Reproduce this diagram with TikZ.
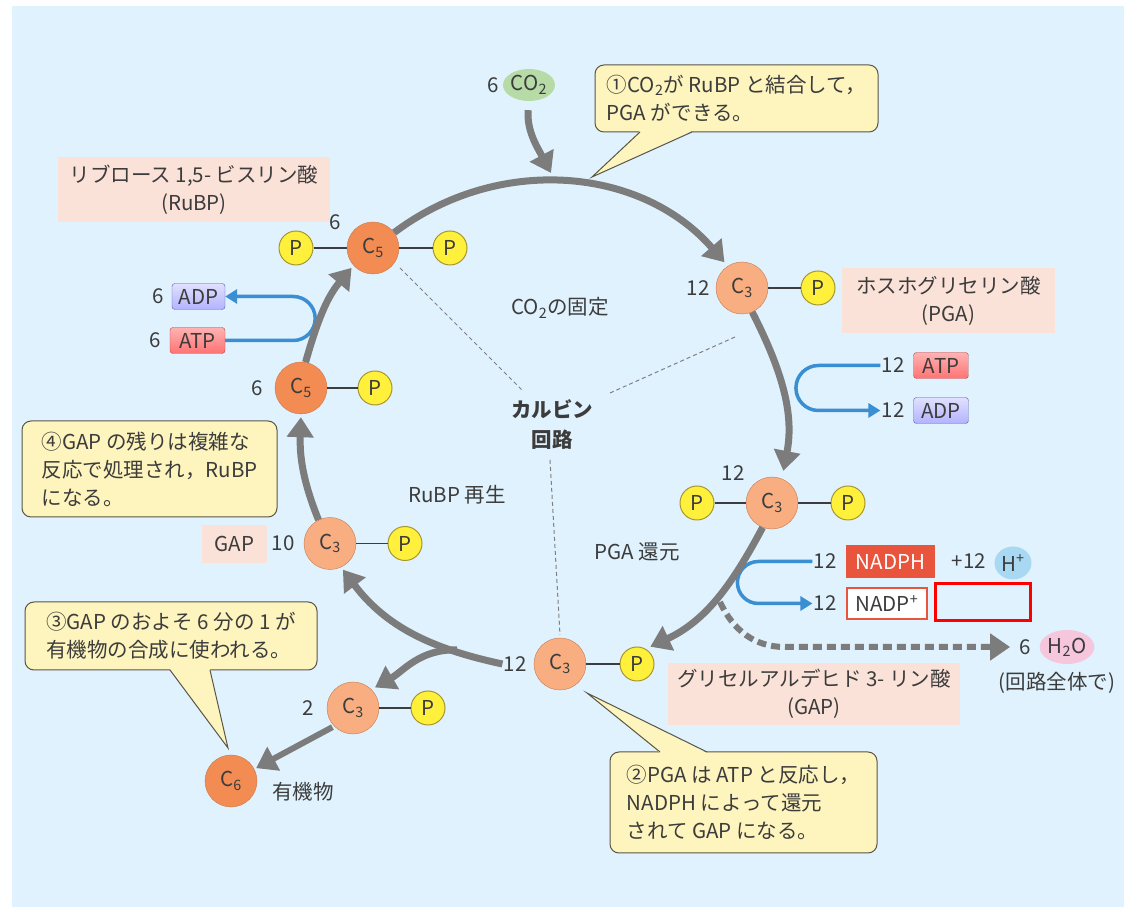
\documentclass[tikz,border=0pt]{standalone}
\usepackage{fontspec}
\setmainfont{Noto Sans CJK JP}
\usetikzlibrary{arrows.meta,shapes.geometric}

\definecolor{bgblue}{HTML}{E0F2FD}
\definecolor{cfiveorange}{HTML}{F28C52}
\definecolor{cthreeorange}{HTML}{F8AE80}
\definecolor{corangeedge}{HTML}{C87850}
\definecolor{pyellow}{HTML}{FFF03C}
\definecolor{pedge}{HTML}{A89630}
\definecolor{cyclegray}{HTML}{7C7C7C}
\definecolor{namepink}{HTML}{FBE2D8}
\definecolor{noteyellow}{HTML}{FDF4BE}
\definecolor{noteedge}{HTML}{5A5646}
\definecolor{flowblue}{HTML}{3A8ED2}
\definecolor{nadphred}{HTML}{E8553C}
\definecolor{hplusblue}{HTML}{A9D9F2}
\definecolor{waterpink}{HTML}{F5C6DC}
\definecolor{cotwogreen}{HTML}{B6DBA6}
\definecolor{inkgray}{HTML}{3C3C3C}

\tikzset{
  cfive/.style={circle, draw=corangeedge, fill=cfiveorange, minimum size=52pt, inner sep=0pt},
  cthree/.style={cfive, fill=cthreeorange},
  phos/.style={circle, draw=pedge, line width=1pt, fill=pyellow, minimum size=34pt, inner sep=0pt},
  bond/.style={draw=inkgray, line width=1.2pt},
  num/.style={inner sep=1pt},
  namebox/.style={fill=namepink, align=center, inner sep=0pt},
  note/.style={draw=noteedge, line width=1pt, fill=noteyellow, rounded corners=9pt, align=left, inner sep=0pt},
  turn/.style={draw=cyclegray, line width=7pt, -{Triangle[length=20pt,width=26pt]}},
  energy/.style={draw=flowblue, line width=3.5pt, -{Triangle[length=12pt,width=14pt]}},
  divide/.style={draw=gray, line width=1pt, dash pattern=on 4pt off 3pt},
  atpbox/.style={rectangle, rounded corners=3pt, draw=red!45!gray, top color=red!30!white, bottom color=red!55!white, minimum width=55pt, minimum height=26pt, inner sep=0pt},
  adpbox/.style={atpbox, draw=blue!30!gray, top color=blue!12!white, bottom color=blue!30!white},
}

\begin{document}
\begin{tikzpicture}[x=1pt, y=1pt, font=\fontsize{20.5}{28}\selectfont, text=inkgray]

\fill[bgblue] (12,0) rectangle (1124,901);
\useasboundingbox (0,0) rectangle (1124,907);

\draw[divide] (400,639) -- (522,517);
\draw[divide] (610,514) -- (735,570);
\draw[divide] (550,447) -- (560,272);

\node (fixN) at (560,599) {CO\textsubscript{2}の固定};
\node[align=center, font=\fontsize{20.5}{30}\selectfont\bfseries] (calvin) at (552,482) {カルビン\\回路};
\node (regenN) at (457,412) {RuBP 再生};
\node (reduceN) at (637,355) {PGA 還元};

\node[namebox, minimum width=272pt, minimum height=65pt] (rubpName) at (194,717.5) {リブロース 1,5- ビスリン酸\\(RuBP)};
\node[cfive] (rubp) at (373,659) {C\textsubscript{5}};
\node[phos] (rubpL) at (296,659) {P};
\node[phos] (rubpR) at (450,659) {P};
\draw[bond] (rubpL) -- (rubp) -- (rubpR);
\node[num] (rubpN) at (335,685) {6};

\node[cthree] (pga) at (742,619) {C\textsubscript{3}};
\node[phos] (pgaP) at (818,619) {P};
\draw[bond] (pga) -- (pgaP);
\node[num] (pgaN) at (698,619) {12};
\node[namebox, minimum width=213pt, minimum height=65pt] (pgaName) at (948.5,606.5) {ホスホグリセリン酸\\(PGA)};

\node[num] (atpRN) at (893,541.5) {12};
\node[atpbox] (atpR) at (941,541.5) {ATP};
\node[num] (adpRN) at (893,496.5) {12};
\node[adpbox] (adpR) at (941,496.5) {ADP};
\draw[energy] (atpRN.west) -- ++(-62,0) arc[start angle=90, end angle=270, radius=22.5] -- (adpRN.west);

\node[cthree] (bpg) at (772,404) {C\textsubscript{3}};
\node[phos] (bpgL) at (697,404) {P};
\node[phos] (bpgR) at (848,404) {P};
\draw[bond] (bpgL) -- (bpg) -- (bpgR);
\node[num] (bpgN) at (733,434) {12};

\node[num] (nadphN) at (825,345.5) {12};
\node[fill=nadphred, text=white, minimum width=89pt, minimum height=33pt, inner sep=0pt] (nadph) at (890.5,345.5) {NADPH};
\node[num] (hN) at (969,345.5) {+12};
\node[ellipse, fill=hplusblue, minimum width=37pt, minimum height=33pt, inner sep=0pt] (hplus) at (1013,344) {H\textsuperscript{+}};
\node[num] (nadpN) at (825,303.5) {12};
\node[draw=nadphred, line width=2.5pt, fill=white, minimum width=80pt, minimum height=31pt, inner sep=0pt] (nadp) at (887,303.5) {NADP\textsuperscript{+}};
\draw[energy] (nadphN.west) -- ++(-54,0) arc[start angle=90, end angle=270, radius=21] -- (nadpN.west);
\draw[red, line width=3pt] (935,286) rectangle (1030,323);

\coordinate (drain) at (720,305);
\node[num] (waterN) at (1025,260) {6};
\node[ellipse, fill=waterpink, minimum width=50pt, minimum height=34pt, inner sep=0pt] (water) at (1067,260) {H\textsubscript{2}O};
\node (waterNote) at (1057,224) {(回路全体で)};
\draw[turn, line width=6pt, dash pattern=on 9pt off 5pt, shorten >=8pt] (drain) to[out=-65, in=180] (785,260) -- (waterN.west);

\node[cthree] (gap) at (560,243) {C\textsubscript{3}};
\node[phos] (gapP) at (637,243) {P};
\draw[bond] (gap) -- (gapP);
\node[num] (gapN) at (515,243) {12};
\node[namebox, minimum width=292pt, minimum height=62pt] (gapName) at (814,213) {グリセルアルデヒド 3- リン酸\\(GAP)};

\node[cthree] (gapTen) at (330,363.5) {C\textsubscript{3}};
\node[phos] (gapTenP) at (405,363.5) {P};
\draw[bond] (gapTen) -- (gapTenP);
\node[num] (gapTenN) at (283,363.5) {10};
\node[namebox, minimum width=65pt, minimum height=38pt] (gapTenName) at (234.5,363) {GAP};

\node[cfive] (ruSix) at (301,519) {C\textsubscript{5}};
\node[phos] (ruSixP) at (375,519) {P};
\draw[bond] (ruSix) -- (ruSixP);
\node[num] (ruSixN) at (257,519) {6};

\node[num] (adpLN) at (158,610.5) {6};
\node[adpbox, minimum width=53pt] (adpL) at (198.5,610.5) {ADP};
\node[num] (atpLN) at (155,566.5) {6};
\node[atpbox] (atpL) at (197.5,566.5) {ATP};
\draw[energy] (atpL.east) -- ++(68,0) arc[start angle=-90, end angle=90, radius=22] -- (adpL.east);

\node[cthree] (gapTwo) at (353,199) {C\textsubscript{3}};
\node[phos] (gapTwoP) at (428,199) {P};
\draw[bond] (gapTwo) -- (gapTwoP);
\node[num] (gapTwoN) at (308,199) {2};
\node[cfive] (hexose) at (231,126) {C\textsubscript{6}};
\node (hexoseN) at (303,115) {有機物};

\node[num] (cotwoN) at (493,822) {6};
\node[ellipse, fill=cotwogreen, minimum width=52pt, minimum height=32pt, inner sep=0pt] (cotwo) at (529,822) {CO\textsubscript{2}};
\coordinate (fixTip) at (551,734);

\draw[turn, shorten >=5pt] (rubp.36) to[out=37, in=131] (pga.123);
\draw[turn, shorten >=8pt] (pga.-67) to[out=-63, in=79] (bpg.68);
\draw[turn, shorten >=5pt] (bpg.-111) to[out=-118, in=25] (gapP.60);
\draw[turn, shorten >=3pt] (gapN.west) to[out=168, in=-53] (gapTen.-65);
\coordinate (branch) at (457,257);
\draw[turn, shorten >=4pt] (branch) to[out=178, in=30] (gapTwo.45);
\draw[turn, line width=6pt, shorten <=2pt, shorten >=2pt] (gapTwo.-136) -- (hexose.27);
\draw[turn, shorten >=3pt] (gapTen.116) to[out=112, in=-92] (ruSix.south);
\draw[turn, shorten >=3pt] (ruSix.80) to[out=74, in=-130] (rubp.-138);
\draw[turn, shorten <=9pt] (cotwo.south) to[out=-95, in=118] (fixTip);

\node[note, minimum width=283pt, minimum height=67pt] (noteOne) at (736.5,808.5) {①CO\textsubscript{2}が RuBP と結合して，\\PGA ができる。};
\fill[noteyellow] (640,776) -- (592,730) -- (692,776) -- cycle;
\draw[noteedge, line width=1pt] (640,775) -- (592,730) -- (692,775);

\node[note, minimum width=267pt, minimum height=101pt] (noteTwo) at (743.5,104.5) {②PGA は ATP と反応し，\\NADPH によって還元\\されて GAP になる。};
\fill[noteyellow] (660,154) -- (587,214) -- (707,154) -- cycle;
\draw[noteedge, line width=1pt] (660,155) -- (587,214) -- (707,155);

\node[note, minimum width=292pt, minimum height=68pt] (noteThree) at (171,271) {③GAP のおよそ 6 分の 1 が\\有機物の合成に使われる。};
\fill[noteyellow] (170,238) -- (228,159) -- (210,238) -- cycle;
\draw[noteedge, line width=1pt] (170,237) -- (228,159) -- (210,237);

\node[note, minimum width=255pt, minimum height=96pt] (noteFour) at (149.5,438) {④GAP の残りは複雑な\\反応で処理され，RuBP\\になる。};

\end{tikzpicture}
\end{document}
